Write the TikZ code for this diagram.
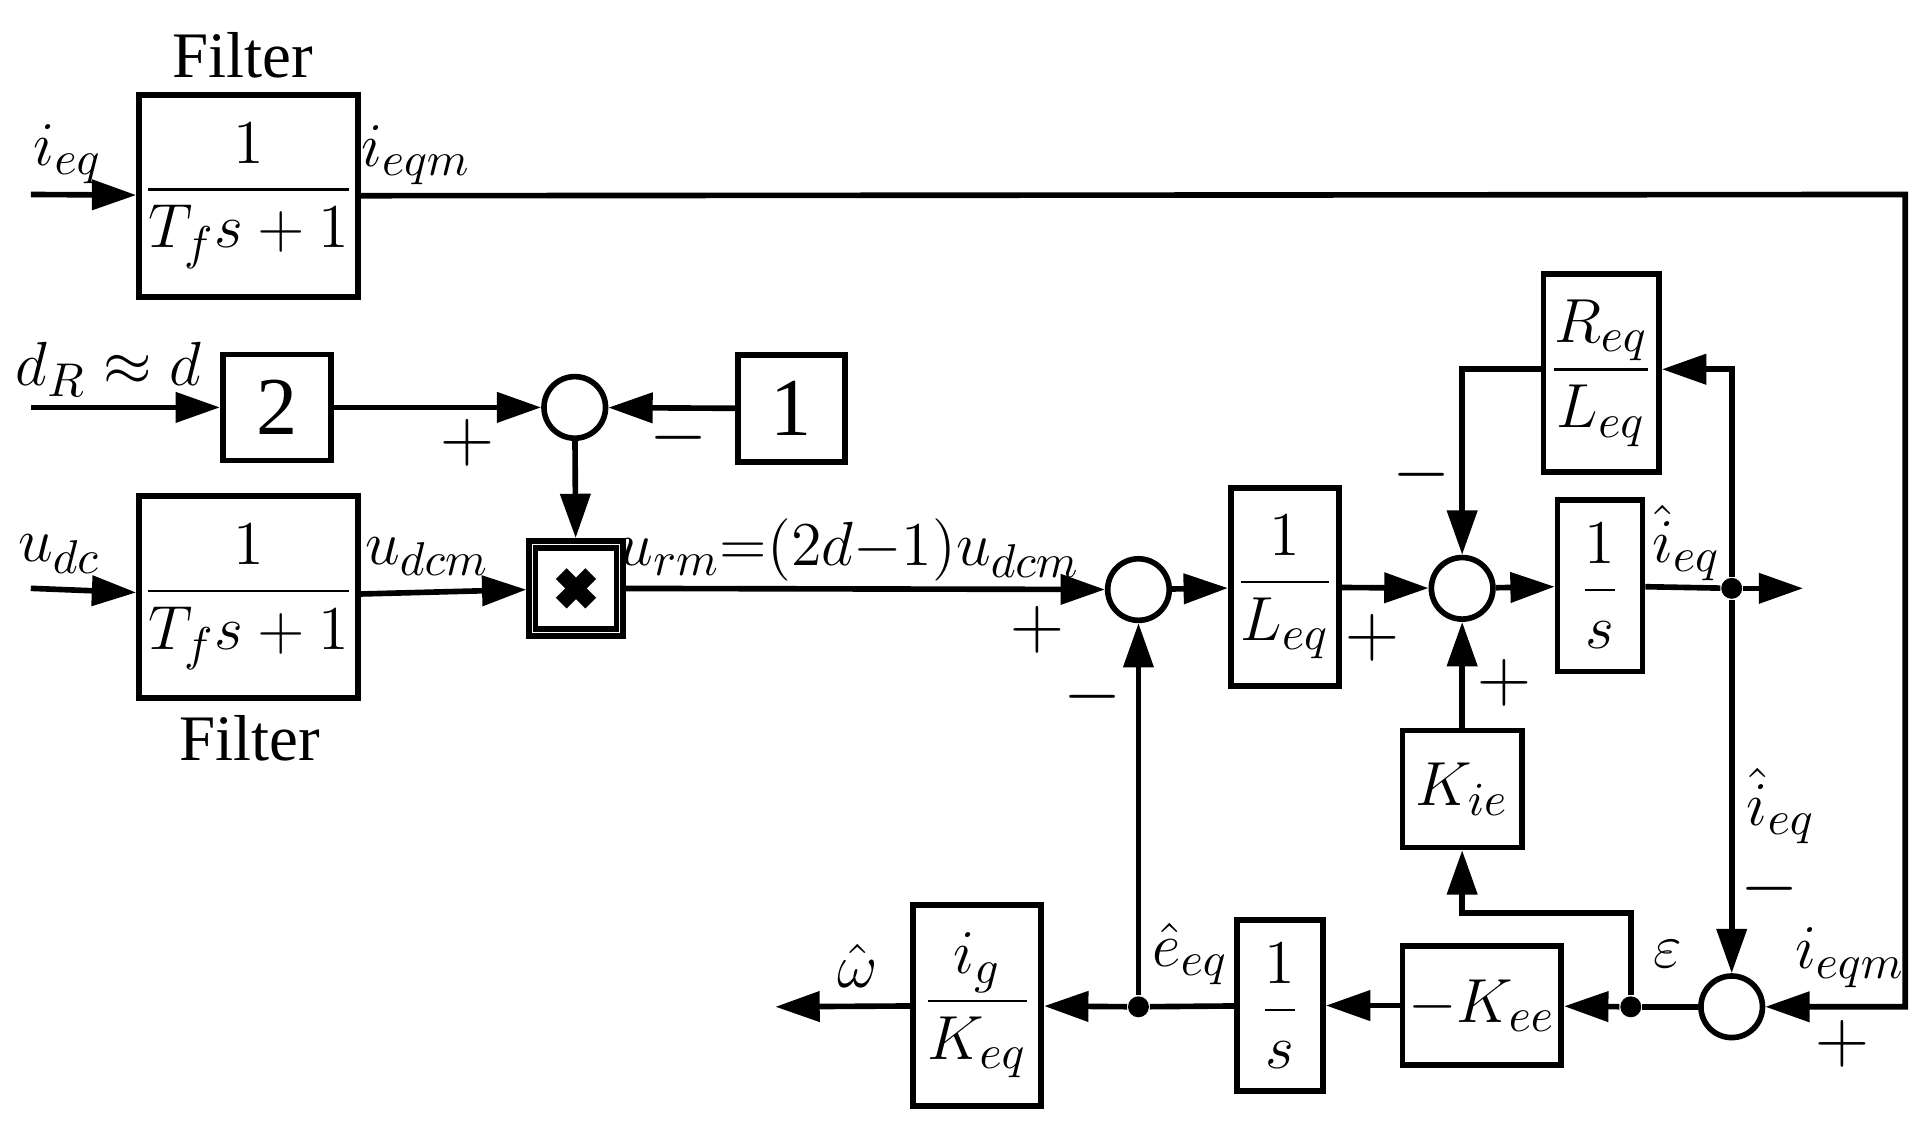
\documentclass[tikz,border=0pt]{standalone}
\usepackage{amsmath}
\usepackage{fontspec}
\setmainfont{Liberation Serif}
\usetikzlibrary{arrows.meta}
\tikzset{
  blk/.style={draw,line width=1.3pt,inner sep=0pt,font=\fontsize{15}{18}\selectfont},
  sum/.style={draw,line width=1.3pt,circle,minimum size=0.5cm,inner sep=0pt},
  dot/.style={circle,fill,inner sep=0pt,minimum size=0.17cm},
  lab/.style={font=\fontsize{15}{18}\selectfont},
  sgn/.style={font=\fontsize{17}{20}\selectfont},
  sig/.style={line width=1.3pt,-{Triangle[length=0.36cm,width=0.24cm]}},
  ln/.style={line width=1.3pt}
}
\begin{document}
\begin{tikzpicture}[x=0.01cm,y=-0.01cm]
\useasboundingbox (0,0) rectangle (1560,917);
% boxes
\node[blk,minimum width=1.78cm,minimum height=1.64cm] (f1) at (202,159) {$\dfrac{\;1\;}{T_f s+1}$};
\node[blk,minimum width=1.78cm,minimum height=1.64cm] (f2) at (202,485) {$\dfrac{\;1\;}{T_f s+1}$};
\node[blk,minimum width=0.88cm,minimum height=0.86cm] (k2) at (225,331) {\fontsize{19}{22}\selectfont 2};
\node[blk,minimum width=0.87cm,minimum height=0.87cm] (k1) at (643,332) {\fontsize{19}{22}\selectfont 1};
\node[draw,line width=1.3pt,minimum width=0.76cm,minimum height=0.77cm,inner sep=0pt] (mul) at (468,478) {};
\draw[ln] (435,445) rectangle (501,511);
\draw[line width=3.5pt] (456,466) -- (480,490) (456,490) -- (480,466);
\node[blk,minimum width=0.88cm,minimum height=1.61cm] (il) at (1044,477) {$\dfrac{1}{L_{eq}}$};
\node[blk,minimum width=0.94cm,minimum height=1.61cm] (rl) at (1301,303) {$\dfrac{R_{eq}}{L_{eq}}$};
\node[blk,minimum width=0.69cm,minimum height=1.39cm] (in1) at (1300,476) {$\dfrac{1}{s}$};
\node[blk,minimum width=0.97cm,minimum height=0.95cm] (kie) at (1188,641) {$K_{ie}$};
\node[blk,minimum width=1.29cm,minimum height=0.97cm] (kee) at (1204,817) {$-K_{ee}$};
\node[blk,minimum width=0.70cm,minimum height=1.39cm] (in2) at (1040,817) {$\dfrac{1}{s}$};
\node[blk,minimum width=1.04cm,minimum height=1.63cm] (ig) at (794,817) {$\dfrac{i_g}{K_{eq}}$};
% sums and dots
\node[sum] (s1) at (467,331) {};
\node[sum] (s2) at (925,479) {};
\node[sum] (s3) at (1188,478) {};
\node[sum] (s4) at (1407,818) {};
\node[dot] (d1) at (1407,478) {};
\node[dot] (d2) at (1325,818) {};
\node[dot] (d3) at (925,818) {};
\coordinate (i1) at (25,158);
\coordinate (i2) at (25,331);
\coordinate (i3) at (25,478);
\coordinate (o1) at (1465,478);
\coordinate (o2) at (630,818);
\coordinate (c1) at (1548,158);
\coordinate (c2) at (1548,818);
\coordinate (c3) at (1407,300);
\coordinate (c4) at (1188,300);
\coordinate (c5) at (1325,742);
\coordinate (c6) at (1188,742);
% connectors
\draw[sig] (i1) -- (f1);
\draw[sig] (i2) -- (k2);
\draw[sig] (i3) -- (f2);
\draw[sig] (f1.east) -- (c1) -- (c2) -- (s4);
\draw[sig] (k2) -- (s1);
\draw[sig] (k1) -- (s1);
\draw[sig] (s1) -- (mul);
\draw[sig] (f2) -- (mul);
\draw[sig] (mul) -- (s2);
\draw[sig] (s2) -- (il);
\draw[sig] (il) -- (s3);
\draw[sig] (s3) -- (in1);
\draw[ln] (in1) -- (d1);
\draw[sig] (d1) -- (o1);
\draw[sig] (d1) -- (c3) -- (rl.east |- c3);
\draw[sig] (rl.west |- c4) -- (c4) -- (s3);
\draw[sig] (kie) -- (s3);
\draw[sig] (d1) -- (s4);
\draw[ln] (s4) -- (d2);
\draw[sig] (d2) -- (kee);
\draw[sig] (d2) -- (c5) -- (c6) -- (kie);
\draw[sig] (kee) -- (in2);
\draw[ln] (in2) -- (d3);
\draw[sig] (d3) -- (ig);
\draw[sig] (d3) -- (s2);
\draw[sig] (ig) -- (o2);
% labels
\node[lab] at (197,45) {Filter};
\node[lab] at (203,600) {Filter};
\node[lab] at (55,125) {$i_{eq}$};
\node[lab] at (338,126) {$i_{eqm}$};
\node[lab] at (88,300) {$d_R\approx d$};
\node[lab] at (48,450) {$u_{dc}$};
\node[lab] at (347,452) {$u_{dcm}$};
\node[lab] at (690,447) {$u_{rm}{=}(2d{-}1)u_{dcm}$};
\node[lab] at (1370,441) {$\hat{i}_{eq}$};
\node[lab] at (1447,655) {$\hat{i}_{eq}$};
\node[lab] at (1355,775) {$\varepsilon$};
\node[lab] at (1503,778) {$i_{eqm}$};
\node[lab] at (967,775) {$\hat{e}_{eq}$};
\node[lab] at (697,785) {$\hat{\omega}$};
\node[sgn] at (380,360) {$+$};
\node[sgn] at (551,356) {$-$};
\node[sgn] at (843,512) {$+$};
\node[sgn] at (888,566) {$-$};
\node[sgn] at (1115,518) {$+$};
\node[sgn] at (1155,386) {$-$};
\node[sgn] at (1222,555) {$+$};
\node[sgn] at (1438,722) {$-$};
\node[sgn] at (1497,848) {$+$};
\end{tikzpicture}
\end{document}
